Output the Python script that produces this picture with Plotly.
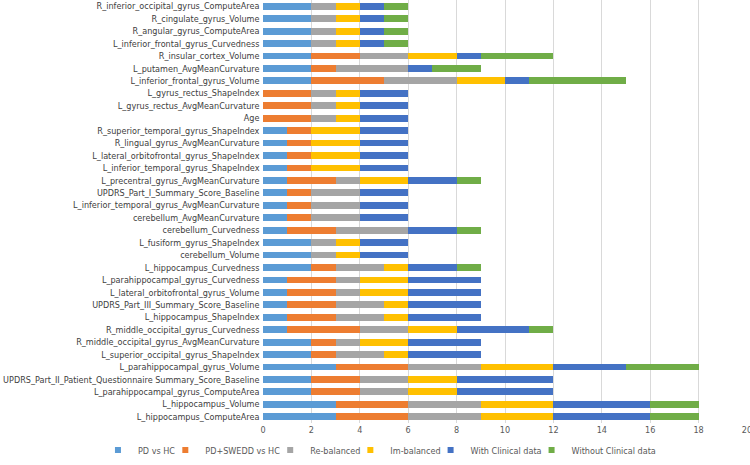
import plotly.graph_objects as go

categories = [
    "R_inferior_occipital_gyrus_ComputeArea",
    "R_cingulate_gyrus_Volume",
    "R_angular_gyrus_ComputeArea",
    "L_inferior_frontal_gyrus_Curvedness",
    "R_insular_cortex_Volume",
    "L_putamen_AvgMeanCurvature",
    "L_inferior_frontal_gyrus_Volume",
    "L_gyrus_rectus_ShapeIndex",
    "L_gyrus_rectus_AvgMeanCurvature",
    "Age",
    "R_superior_temporal_gyrus_ShapeIndex",
    "R_lingual_gyrus_AvgMeanCurvature",
    "L_lateral_orbitofrontal_gyrus_ShapeIndex",
    "L_inferior_temporal_gyrus_ShapeIndex",
    "L_precentral_gyrus_AvgMeanCurvature",
    "UPDRS_Part_I_Summary_Score_Baseline",
    "L_inferior_temporal_gyrus_AvgMeanCurvature",
    "cerebellum_AvgMeanCurvature",
    "cerebellum_Curvedness",
    "L_fusiform_gyrus_ShapeIndex",
    "cerebellum_Volume",
    "L_hippocampus_Curvedness",
    "L_parahippocampal_gyrus_Curvedness",
    "L_lateral_orbitofrontal_gyrus_Volume",
    "UPDRS_Part_III_Summary_Score_Baseline",
    "L_hippocampus_ShapeIndex",
    "R_middle_occipital_gyrus_Curvedness",
    "R_middle_occipital_gyrus_AvgMeanCurvature",
    "L_superior_occipital_gyrus_ShapeIndex",
    "L_parahippocampal_gyrus_Volume",
    "UPDRS_Part_II_Patient_Questionnaire Summary_Score_Baseline",
    "L_parahippocampal_gyrus_ComputeArea",
    "L_hippocampus_Volume",
    "L_hippocampus_ComputeArea",
]

pd_vs_hc =        [2, 2, 2, 2, 2, 2, 2, 0, 0, 0, 1, 1, 1, 1, 1, 1, 1, 1, 1, 2, 2, 2, 1, 1, 1, 1, 1, 2, 2, 3, 2, 2, 3, 3]
pd_swedd_vs_hc =  [0, 0, 0, 0, 2, 1, 3, 2, 2, 2, 1, 1, 1, 1, 2, 1, 1, 1, 2, 0, 0, 1, 2, 2, 2, 2, 3, 1, 1, 3, 2, 2, 3, 3]
re_balanced =     [1, 1, 1, 1, 2, 3, 3, 1, 1, 1, 0, 0, 0, 0, 1, 2, 2, 2, 3, 1, 1, 2, 1, 1, 2, 2, 2, 1, 2, 3, 2, 2, 3, 3]
im_balanced =     [1, 1, 1, 1, 2, 0, 2, 1, 1, 1, 2, 2, 2, 2, 2, 0, 0, 0, 0, 1, 1, 1, 2, 2, 1, 1, 2, 2, 1, 3, 2, 2, 3, 3]
with_clinical =   [1, 1, 1, 1, 1, 1, 1, 2, 2, 2, 2, 2, 2, 2, 2, 2, 2, 2, 2, 2, 2, 2, 3, 3, 3, 3, 3, 3, 3, 3, 4, 4, 4, 4]
without_clinical = [1, 1, 1, 1, 3, 2, 4, 0, 0, 0, 0, 0, 0, 0, 1, 0, 0, 0, 1, 0, 0, 1, 0, 0, 0, 0, 1, 0, 0, 3, 0, 0, 2, 2]

series_names = ["PD vs HC", "PD+SWEDD vs HC", "Re-balanced", "Im-balanced",
                "With Clinical data", "Without Clinical data"]
series_values = [pd_vs_hc, pd_swedd_vs_hc, re_balanced, im_balanced,
                 with_clinical, without_clinical]
series_colors = ["#5B9BD5", "#ED7D31", "#A5A5A5", "#FFC000", "#4472C4", "#70AD47"]

font_family = "Liberation Sans Narrow, DejaVu Sans Condensed, Arial Narrow, sans-serif"

fig = go.Figure()
for name, vals, color in zip(series_names, series_values, series_colors):
    fig.add_trace(go.Bar(
        y=categories, x=vals, name=name, orientation="h",
        marker=dict(color=color, line=dict(width=0)),
        showlegend=False,
    ))
# legend entries with small square swatches
for name, color in zip(series_names, series_colors):
    fig.add_trace(go.Scatter(
        x=[None], y=[None], mode="markers", name=name,
        marker=dict(symbol="square", size=6, color=color),
        showlegend=True,
    ))

fig.update_layout(
    width=750, height=465,
    barmode="stack",
    bargap=0.45,
    plot_bgcolor="white",
    paper_bgcolor="white",
    margin=dict(l=263, r=3, t=0, b=34),
    font=dict(family=font_family, size=9, color="#404040"),
    xaxis=dict(
        range=[0, 20], dtick=2, showgrid=True, gridcolor="#D9D9D9", gridwidth=1,
        zeroline=False, showline=False, ticks="", automargin=False,
        ticklabeloverflow="allow",
        tickfont=dict(size=9, color="#595959"),
    ),
    yaxis=dict(
        autorange="reversed", showgrid=False, showline=False, ticks="",
        automargin=False, tickfont=dict(size=9, color="#404040"), ticksuffix=" ",
    ),
    legend=dict(
        orientation="h", x=-0.31, xanchor="left", y=-0.064, yanchor="middle",
        font=dict(size=9, color="#595959"), traceorder="normal",
        itemwidth=30, indentation=-15, tracegroupgap=0,
        bgcolor="rgba(0,0,0,0)",
    ),
)

fig.write_html("out.html", config={"displayModeBar": False},
               post_script="document.body.style.margin='0';")
